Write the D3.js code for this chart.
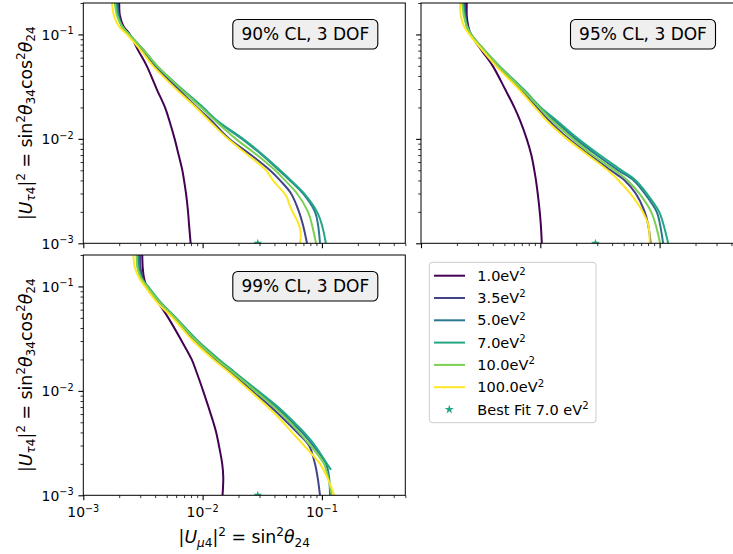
<!DOCTYPE html>
<html><head><meta charset="utf-8">
<script src="https://cdn.jsdelivr.net/npm/d3@7"></script>
<style>body{margin:0;background:#fff} svg{display:block;font-family:"DejaVu Sans",sans-serif}</style>
</head><body><svg id="c" width="733" height="554"></svg>
<script>
// ---------- data ----------
const massLabels = ["1.0", "3.5", "5.0", "7.0", "10.0", "100.0"];
const lineColors = ["#440154", "#414487", "#2a788e", "#22a884", "#7ad151", "#fde725"];
const panelTitles = ["90% CL, 3 DOF", "95% CL, 3 DOF", "99% CL, 3 DOF"];
const bestFitPoint = [0.029, 0.001];
const bestFitLabel = "Best Fit 7.0 eV";
const majorTickValues = [1e-3, 1e-2, 1e-1];
const majorTickExps = ["\u22123", "\u22122", "\u22121"];
const xDomain = [1e-3, 0.5];
const yDomain = [1e-3, 0.2];

// 90% CL  [|U_mu4|^2, |U_tau4|^2]
const cl90_1p0 = [[0.00200,0.2],[0.00203,0.15],[0.00217,0.12],[0.00246,0.1],[0.00289,0.07],[0.00340,0.05],[0.00412,0.03],[0.00484,0.02],[0.00526,0.015],[0.00583,0.01],[0.00630,0.007],[0.00676,0.005],[0.00699,0.004],[0.00726,0.003],[0.00755,0.002],[0.00770,0.0015],[0.00794,0.001]];
const cl90_3p5 = [[0.00195,0.2],[0.00199,0.15],[0.00211,0.12],[0.00242,0.1],[0.00317,0.07],[0.00399,0.05],[0.00622,0.03],[0.00898,0.02],[0.0118,0.015],[0.0167,0.01],[0.0255,0.007],[0.0367,0.005],[0.0446,0.004],[0.0551,0.003],[0.0643,0.002],[0.0694,0.0015],[0.0750,0.001]];
const cl90_5p0 = [[0.00192,0.2],[0.00197,0.15],[0.00211,0.12],[0.00242,0.1],[0.00323,0.07],[0.00411,0.05],[0.00659,0.03],[0.00989,0.02],[0.0130,0.015],[0.0214,0.01],[0.0315,0.007],[0.0437,0.005],[0.0540,0.004],[0.0694,0.003],[0.0875,0.002],[0.0928,0.0015],[0.0964,0.001]];
const cl90_7p0 = [[0.00188,0.2],[0.00195,0.15],[0.00211,0.12],[0.00242,0.1],[0.00323,0.07],[0.00415,0.05],[0.00672,0.03],[0.0101,0.02],[0.0132,0.015],[0.0218,0.01],[0.0321,0.007],[0.0446,0.005],[0.0551,0.004],[0.0708,0.003],[0.0910,0.002],[0.1000,0.0015],[0.1080,0.001]];
const cl90_10p0 = [[0.00184,0.2],[0.00192,0.15],[0.00211,0.12],[0.00242,0.1],[0.00323,0.07],[0.00415,0.05],[0.00659,0.03],[0.00970,0.02],[0.0127,0.015],[0.0190,0.01],[0.0286,0.007],[0.0405,0.005],[0.0491,0.004],[0.0619,0.003],[0.0765,0.002],[0.0826,0.0015],[0.0893,0.001]];
const cl90_100p0 = [[0.00174,0.2],[0.00181,0.15],[0.00199,0.12],[0.00232,0.1],[0.00305,0.07],[0.00384,0.05],[0.00598,0.03],[0.00880,0.02],[0.0113,0.015],[0.0163,0.01],[0.0240,0.007],[0.0340,0.005],[0.0389,0.004],[0.0474,0.0031],[0.0507,0.00279],[0.0530,0.0024],[0.0576,0.00194],[0.0634,0.00156],[0.0664,0.00125],[0.0655,0.001]];

// 95% CL
const cl95_1p0 = [[0.00242,0.2],[0.00242,0.15],[0.00249,0.12],[0.00261,0.1],[0.00323,0.07],[0.00399,0.05],[0.00506,0.03],[0.00606,0.02],[0.00676,0.015],[0.00769,0.01],[0.00841,0.007],[0.00891,0.005],[0.00920,0.004],[0.00951,0.003],[0.00989,0.002],[0.0101,0.0015],[0.0103,0.001]];
const cl95_3p5 = [[0.00234,0.2],[0.00237,0.15],[0.00246,0.12],[0.00263,0.1],[0.00337,0.07],[0.00436,0.05],[0.00676,0.03],[0.00933,0.02],[0.0118,0.015],[0.0173,0.01],[0.0260,0.007],[0.0389,0.005],[0.0510,0.004],[0.0631,0.003],[0.0750,0.002],[0.0802,0.0015],[0.0842,0.001]];
const cl95_5p0 = [[0.00226,0.2],[0.00234,0.15],[0.00242,0.12],[0.00263,0.1],[0.00342,0.07],[0.00448,0.05],[0.00707,0.03],[0.00994,0.02],[0.0132,0.015],[0.0198,0.01],[0.0297,0.007],[0.0450,0.005],[0.0607,0.004],[0.0750,0.003],[0.0946,0.002],[0.1010,0.0015],[0.1070,0.001]];
const cl95_7p0 = [[0.00224,0.2],[0.00232,0.15],[0.00242,0.12],[0.00263,0.1],[0.00342,0.07],[0.00453,0.05],[0.00720,0.03],[0.0101,0.02],[0.0137,0.015],[0.0208,0.01],[0.0315,0.007],[0.0480,0.005],[0.0631,0.004],[0.0780,0.003],[0.0992,0.002],[0.1080,0.0015],[0.1180,0.001]];
const cl95_10p0 = [[0.00221,0.2],[0.00229,0.15],[0.00242,0.12],[0.00263,0.1],[0.00342,0.07],[0.00448,0.05],[0.00702,0.03],[0.00981,0.02],[0.0125,0.015],[0.0187,0.01],[0.0275,0.007],[0.0420,0.005],[0.0540,0.004],[0.0675,0.003],[0.0850,0.002],[0.0928,0.0015],[0.1010,0.001]];
const cl95_100p0 = [[0.00212,0.2],[0.00216,0.15],[0.00229,0.12],[0.00254,0.1],[0.00329,0.07],[0.00425,0.05],[0.00659,0.03],[0.00903,0.02],[0.0113,0.015],[0.0167,0.01],[0.0250,0.007],[0.0367,0.005],[0.0454,0.004],[0.0567,0.003],[0.0722,0.002],[0.0804,0.0015],[0.0826,0.001]];

// 99% CL
const cl99_1p0 = [[0.00312,0.2],[0.00315,0.15],[0.00323,0.12],[0.00340,0.1],[0.00425,0.07],[0.00516,0.05],[0.00668,0.03],[0.00810,0.02],[0.00892,0.015],[0.0101,0.01],[0.0112,0.007],[0.0123,0.005],[0.0130,0.004],[0.0137,0.003],[0.0146,0.002],[0.0149,0.0015],[0.0147,0.001]];
const cl99_3p5 = [[0.00299,0.2],[0.00302,0.15],[0.00315,0.12],[0.00335,0.1],[0.00431,0.07],[0.00576,0.05],[0.00864,0.03],[0.0127,0.02],[0.0173,0.015],[0.0260,0.01],[0.0374,0.007],[0.0510,0.005],[0.0619,0.004],[0.0780,0.003],[0.0875,0.002],[0.0919,0.0015],[0.0964,0.001]];
const cl99_5p0 = [[0.00289,0.2],[0.00293,0.15],[0.00311,0.12],[0.00342,0.1],[0.00440,0.07],[0.00593,0.05],[0.00897,0.03],[0.0135,0.02],[0.0183,0.015],[0.0280,0.01],[0.0412,0.007],[0.0562,0.005],[0.0681,0.004],[0.0842,0.003],[0.1082,0.002],[0.1147,0.0015],[0.1169,0.001]];
const cl99_7p0 = [[0.00284,0.2],[0.00287,0.15],[0.00307,0.12],[0.00349,0.1],[0.00448,0.07],[0.00598,0.05],[0.00915,0.03],[0.0137,0.02],[0.0187,0.015],[0.0291,0.01],[0.0429,0.007],[0.0584,0.005],[0.0708,0.004],[0.0875,0.003],[0.1103,0.002],[0.1192,0.00175]];
const cl99_10p0 = [[0.00280,0.2],[0.00285,0.15],[0.00305,0.12],[0.00342,0.1],[0.00440,0.07],[0.00587,0.05],[0.00889,0.03],[0.0132,0.02],[0.0180,0.015],[0.0275,0.01],[0.0397,0.007],[0.0540,0.005],[0.0643,0.004],[0.0798,0.003],[0.1041,0.002],[0.1125,0.0015],[0.1208,0.001]];
const cl99_100p0 = [[0.00263,0.2],[0.00271,0.15],[0.00295,0.12],[0.00329,0.1],[0.00417,0.07],[0.00562,0.05],[0.00836,0.03],[0.0123,0.02],[0.0167,0.015],[0.0250,0.01],[0.0353,0.007],[0.0472,0.005],[0.0562,0.004],[0.0708,0.003],[0.0964,0.002],[0.1103,0.0015],[0.1270,0.001]];

const panelCurves = [
  [cl90_1p0, cl90_3p5, cl90_5p0, cl90_7p0, cl90_10p0, cl90_100p0],
  [cl95_1p0, cl95_3p5, cl95_5p0, cl95_7p0, cl95_10p0, cl95_100p0],
  [cl99_1p0, cl99_3p5, cl99_5p0, cl99_7p0, cl99_10p0, cl99_100p0]
];

// ---------- layout ----------
const W = 322, H = 240.3;
const panels = [
  {x0: 83.3, y0: 3,   xLabels: false, yLabels: true},
  {x0: 421,  y0: 3,   xLabels: false, yLabels: false},
  {x0: 83.3, y0: 255, xLabels: true,  yLabels: true}
];
const svg = d3.select("#c");
const FS_TICK = 13.9, FS_LAB = 17.3, FS_TITLE = 17, FS_LEG = 14.5;

function mtext(sel, parts, size) {
  let cur = 0;
  parts.forEach(p => {
    const [t, kind, it] = p;
    let off = 0, fs = size;
    if (kind === "sup") { off = -0.40 * size; fs = 0.7 * size; }
    if (kind === "sub") { off = 0.20 * size; fs = 0.7 * size; }
    sel.append("tspan").attr("dy", (off - cur).toFixed(2)).attr("font-size", fs)
      .attr("font-style", it ? "italic" : "normal").text(t);
    cur = off;
  });
}

const minorVals = [];
[1e-3, 1e-2, 1e-1].forEach(dec => { for (let k = 2; k <= 9; k++) minorVals.push(+(k * dec).toPrecision(3)); });

const xs = d3.scaleLog().domain(xDomain).range([0, W]);
const ys = d3.scaleLog().domain(yDomain).range([H, 0]);
const line = d3.line().x(d => xs(d[0])).y(d => ys(d[1])).curve(d3.curveCatmullRom.alpha(0.5));

panels.forEach((p, pi) => {
  const g = svg.append("g").attr("transform", `translate(${p.x0},${p.y0})`);
  const cid = "clip" + pi;
  g.append("clipPath").attr("id", cid).append("rect").attr("width", W).attr("height", H);

  const plot = g.append("g").attr("clip-path", `url(#${cid})`);
  panelCurves[pi].forEach((c, ci) => {
    plot.append("path").attr("d", line(c)).attr("fill", "none")
      .attr("stroke", lineColors[ci]).attr("stroke-width", 2).attr("stroke-linejoin", "round");
  });
  plot.append("path").attr("d", d3.symbol(d3.symbolStar, 24)())
    .attr("transform", `translate(${xs(bestFitPoint[0])},${ys(bestFitPoint[1])})`)
    .attr("fill", lineColors[3]);

  // axes ticks
  const ax1 = g.append("g").attr("transform", `translate(0,${H})`)
    .call(d3.axisBottom(xs).tickValues(minorVals.filter(v => v <= xDomain[1])).tickSize(2.8).tickFormat(""));
  const ax2 = g.append("g").attr("transform", `translate(0,${H})`)
    .call(d3.axisBottom(xs).tickValues(majorTickValues).tickSize(4.9).tickFormat(""));
  const ay1 = g.append("g").call(d3.axisLeft(ys).tickValues(minorVals.filter(v => v <= yDomain[1])).tickSize(2.8).tickFormat(""));
  const ay2 = g.append("g").call(d3.axisLeft(ys).tickValues(majorTickValues).tickSize(4.9).tickFormat(""));
  [ax1, ax2, ay1, ay2].forEach(a => { a.select(".domain").remove(); a.selectAll("line").attr("stroke", "#000"); });
  ax2.selectAll("line").attr("stroke-width", 1.1); ay2.selectAll("line").attr("stroke-width", 1.1);
  ax1.selectAll("line").attr("stroke-width", 0.8); ay1.selectAll("line").attr("stroke-width", 0.8);

  if (p.xLabels) {
    majorTickValues.forEach((v, i) => {
      const t = g.append("text").attr("x", xs(v)).attr("y", H + 22).attr("text-anchor", "middle")
        .attr("font-size", FS_TICK).attr("fill", "#000");
      mtext(t, [["10"], [majorTickExps[i], "sup"]], FS_TICK);
    });
  }
  if (p.yLabels) {
    majorTickValues.forEach((v, i) => {
      const t = g.append("text").attr("x", -9.7).attr("y", ys(v) + 5.5).attr("text-anchor", "end")
        .attr("font-size", FS_TICK).attr("fill", "#000");
      mtext(t, [["10"], [majorTickExps[i], "sup"]], FS_TICK);
    });
    const yl = g.append("text").attr("transform", `translate(${32 - p.x0},${H / 2}) rotate(-90)`)
      .attr("text-anchor", "middle").attr("font-size", FS_LAB).attr("fill", "#000");
    mtext(yl, [["|"], ["U", "n", true], ["\u03c4", "sub", true], ["4", "sub"], ["|", "n"], ["2", "sup"], [" = ", "n"],
      ["sin"], ["2", "sup"], ["\u03b8", "n", true], ["34", "sub"], ["cos", "n"], ["2", "sup"], ["\u03b8", "n", true], ["24", "sub"]], FS_LAB);
  }
  if (p.xLabels) {
    const xl = g.append("text").attr("x", W / 2).attr("y", H + 48).attr("text-anchor", "middle")
      .attr("font-size", FS_LAB).attr("fill", "#000");
    mtext(xl, [["|"], ["U", "n", true], ["\u03bc", "sub", true], ["4", "sub"], ["|", "n"], ["2", "sup"], [" = ", "n"],
      ["sin"], ["2", "sup"], ["\u03b8", "n", true], ["24", "sub"]], FS_LAB);
  }

  // frame
  g.append("rect").attr("width", W).attr("height", H).attr("fill", "none").attr("stroke", "#000").attr("stroke-width", 1);

  // title box
  const bx = 149.5, by = 16.5, bw = 145, bh = 29.5;
  g.append("rect").attr("x", bx).attr("y", by).attr("width", bw).attr("height", bh).attr("rx", 5)
    .attr("fill", "#efefef").attr("stroke", "#000").attr("stroke-width", 1.1);
  g.append("text").attr("x", bx + bw / 2).attr("y", by + bh / 2 + 6.2).attr("text-anchor", "middle")
    .attr("font-size", FS_TITLE).attr("fill", "#000").text(panelTitles[pi]);
});

// ---------- legend ----------
const lg = svg.append("g").attr("transform", "translate(429.3,262.3)");
lg.append("rect").attr("width", 166.7).attr("height", 160.4).attr("rx", 3)
  .attr("fill", "#fff").attr("stroke", "#ccc").attr("stroke-width", 1);
const rowY = i => 13.4 + i * 22.3;
massLabels.forEach((m, i) => {
  lg.append("line").attr("x1", 4.7).attr("x2", 35.7).attr("y1", rowY(i)).attr("y2", rowY(i))
    .attr("stroke", lineColors[i]).attr("stroke-width", 2);
  const t = lg.append("text").attr("x", 48).attr("y", rowY(i) + 5.2).attr("font-size", FS_LEG).attr("fill", "#000");
  mtext(t, [[m + "eV"], ["2", "sup"]], FS_LEG);
});
lg.append("path").attr("d", d3.symbol(d3.symbolStar, 26)())
  .attr("transform", `translate(20,${rowY(6)})`).attr("fill", lineColors[3]);
const bt = lg.append("text").attr("x", 48).attr("y", rowY(6) + 5.2).attr("font-size", FS_LEG).attr("fill", "#000");
mtext(bt, [[bestFitLabel], ["2", "sup"]], FS_LEG);
</script></body></html>
